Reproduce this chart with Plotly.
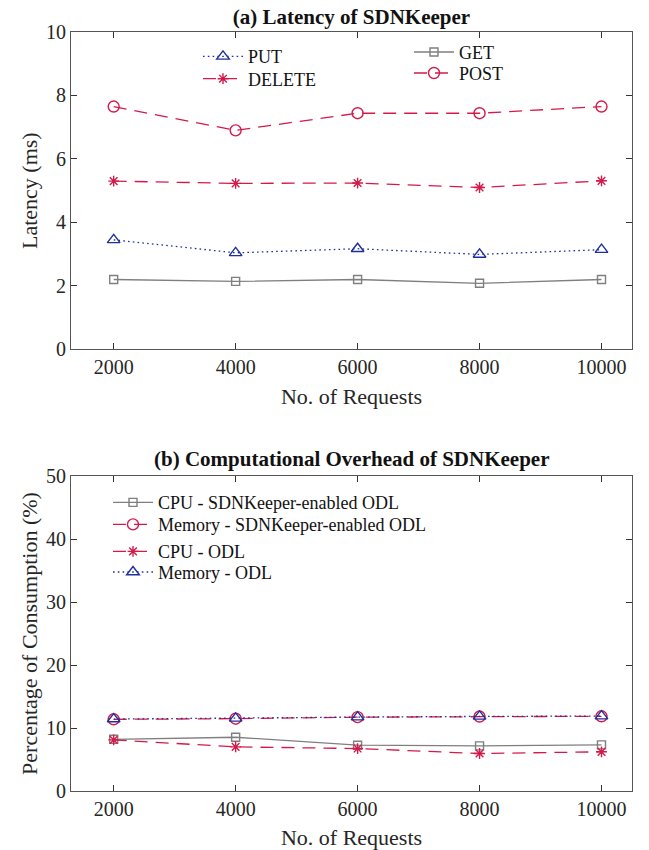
import plotly.graph_objects as go

requests = [2000, 4000, 6000, 8000, 10000]
request_labels = ["2000", "4000", "6000", "8000", "10000"]

# (a) Latency (ms)
lat_get = [2.20, 2.14, 2.20, 2.08, 2.20]
lat_put = [3.45, 3.04, 3.17, 2.99, 3.14]
lat_delete = [5.30, 5.23, 5.24, 5.10, 5.31]
lat_post = [7.65, 6.90, 7.44, 7.44, 7.65]

# (b) Consumption (%)
cpu_sdnk = [8.21, 8.53, 7.27, 7.16, 7.32]
mem_sdnk = [11.38, 11.48, 11.72, 11.82, 11.86]
cpu_odl = [8.11, 7.00, 6.74, 5.95, 6.22]
mem_odl = [11.42, 11.52, 11.73, 11.84, 11.89]

GRAY = "#7f7f7f"
RED = "#d41a4a"
BLUE = "#1f2f9c"
FONT = "Liberation Serif"

DASH = "13px,8px"
DOT = "1.6px,3.2px"

PT, PB = 32, 59
H = 850 - PT - PB


def py(p):
    return (850 - PB - p) / H


def px(p):
    return (p - 71) / 561


fig = go.Figure()
legends = {}


def add(x, y, name, color, dash, symbol, size, xa, ya, legend, lx, ly, lw=1.3):
    fig.add_trace(go.Scatter(
        x=x, y=y, name=name, mode="lines+markers",
        line=dict(color=color, dash=dash, width=lw),
        marker=dict(symbol=symbol, size=size, color=color,
                    line=dict(color=color, width=1.4)),
        xaxis=xa, yaxis=ya, legend=legend,
    ))
    legends[legend] = dict(
        font=dict(family=FONT, size=18, color="#111111"),
        bgcolor="rgba(0,0,0,0)", borderwidth=0,
        xanchor="left", yanchor="middle", itemwidth=40,
        x=px(lx), y=py(ly),
    )


# top panel
add(requests, lat_put, "PUT", BLUE, DOT, "triangle-up-open", 11, "x", "y", "legend", 198, 56.7)
add(requests, lat_delete, "DELETE", RED, DASH, "asterisk-open", 9, "x", "y", "legend2", 198, 79)
add(requests, lat_get, "GET", GRAY, "solid", "square-open", 8, "x", "y", "legend3", 409, 52.3)
add(requests, lat_post, "POST", RED, DASH, "circle-open", 11, "x", "y", "legend4", 409, 73.3)

# bottom panel
add(requests, cpu_sdnk, "CPU - SDNKeeper-enabled ODL", GRAY, "solid", "square-open", 8, "x2", "y2", "legend5", 108, 502.7)
add(requests, mem_sdnk, "Memory - SDNKeeper-enabled ODL", RED, DASH, "circle-open", 11, "x2", "y2", "legend6", 108, 524.7)
add(requests, cpu_odl, "CPU - ODL", RED, DASH, "asterisk-open", 9, "x2", "y2", "legend7", 108, 551.7)
add(requests, mem_odl, "Memory - ODL", BLUE, DOT, "triangle-up-open", 11, "x2", "y2", "legend8", 108, 572.3)

AXCOL = "#555555"
common_axis = dict(
    showline=True, linecolor=AXCOL, linewidth=1.2, mirror="ticks",
    ticks="inside", ticklen=6, tickcolor="#333333", tickwidth=1,
    showgrid=False, zeroline=False, automargin=False,
    tickfont=dict(family=FONT, size=20, color="#262626"),
)

fig.update_layout(
    width=649, height=850,
    margin=dict(l=71, r=17, t=PT, b=PB),
    paper_bgcolor="white", plot_bgcolor="white",
    font=dict(family=FONT, color="#262626"),
    title=dict(text="<b>(a) Latency of SDNKeeper</b>", xref="paper", yref="container",
               x=0.5, y=(850 - 17) / 850, xanchor="center", yanchor="middle",
               font=dict(family=FONT, size=21, color="#111111")),
    xaxis=dict(common_axis, domain=[0, 1], range=[1300, 10500],
               tickvals=requests, ticktext=request_labels, anchor="y",
               title=dict(text="No. of Requests", font=dict(family=FONT, size=22), standoff=11)),
    yaxis=dict(common_axis, domain=[py(349.3), 1], range=[0, 10],
               tickvals=[0, 2, 4, 6, 8, 10], anchor="x",
               title=dict(text="Latency (ms)", font=dict(family=FONT, size=22), standoff=2)),
    xaxis2=dict(common_axis, domain=[0, 1], range=[1300, 10500],
                tickvals=requests, ticktext=request_labels, anchor="y2",
                title=dict(text="No. of Requests", font=dict(family=FONT, size=22), standoff=11)),
    yaxis2=dict(common_axis, domain=[0, py(476)], range=[0, 50],
                tickvals=[0, 10, 20, 30, 40, 50], anchor="x2",
                title=dict(text="Percentage of Consumption (%)", font=dict(family=FONT, size=22), standoff=2)),
    annotations=[
        dict(text="<b>(b) Computational Overhead of SDNKeeper</b>", xref="paper", yref="paper",
             x=0.5, y=py(458.5), xanchor="center", yanchor="middle", showarrow=False,
             font=dict(family=FONT, size=21, color="#111111")),
    ],
    showlegend=True,
    **legends,
)

fig.write_html(
    "out.html",
    config={"displayModeBar": False},
    post_script="document.body.style.margin='0';document.body.style.overflow='hidden';",
)
